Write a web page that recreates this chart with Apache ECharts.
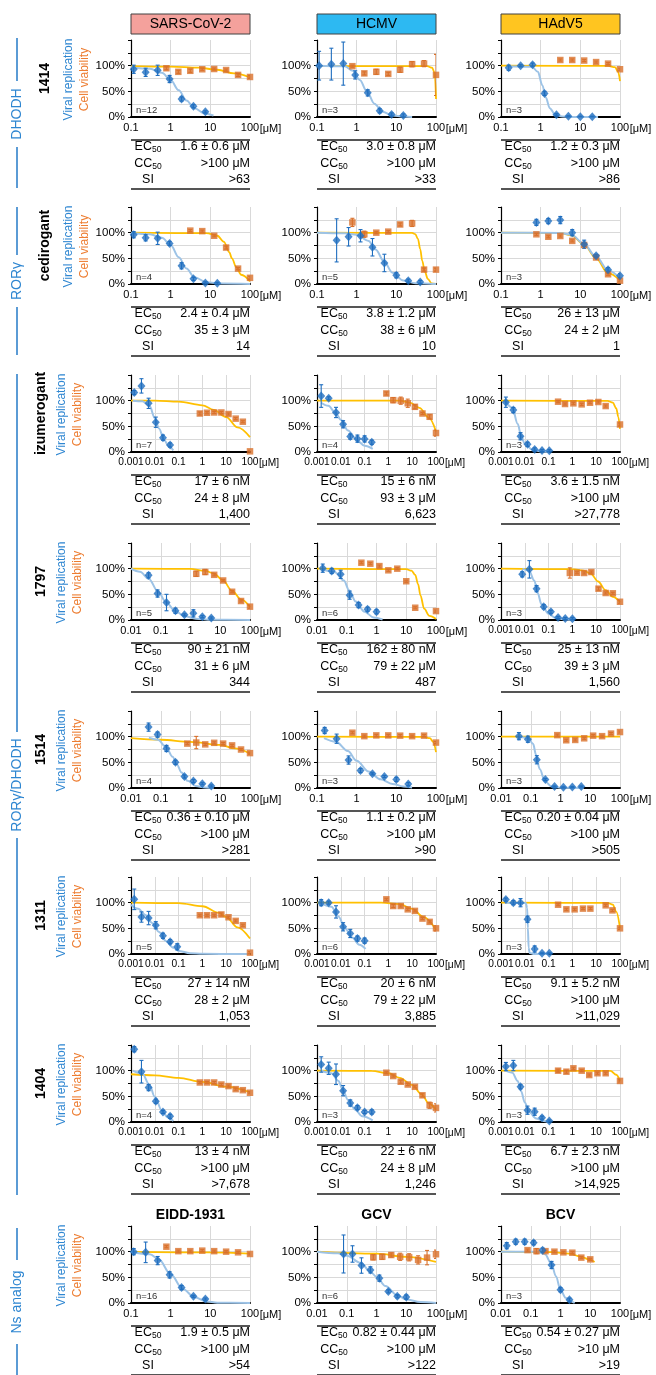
<!DOCTYPE html>
<html><head><meta charset="utf-8">
<script src="https://cdn.jsdelivr.net/npm/echarts@6/dist/echarts.min.js"></script>
<style>html,body{margin:0;padding:0;background:#fff}#c{width:656px;height:1375px}</style>
</head><body><div id="c"></div>
<script>
// ---------- categories / labels ----------
const viruses = ['SARS-CoV-2', 'HCMV', 'HAdV5'];
const virusColors = ['#F4A19C', '#2DB9F2', '#FFC520'];
const compounds = ['1414', 'cedirogant', 'izumerogant', '1797', '1514', '1311', '1404', ''];
const bottomTitles = ['EIDD-1931', 'GCV', 'BCV'];
const groups = ['DHODH', 'RORγ', 'RORγ/DHODH', 'Ns analog'];
const xMins = [[0.1,0.1,0.1],[0.1,0.1,0.1],[0.001,0.001,0.001],[0.01,0.01,0.001],[0.01,0.1,0.01],[0.001,0.001,0.001],[0.001,0.001,0.001],[0.1,0.01,0.01]];
const xTickText = {'-3':'0.001','-2':'0.01','-1':'0.1','0':'1','1':'10','2':'100'};
const xUnit = '[μM]';
const yTickText = {0:'0%', 50:'50%', 100:'100%'};
const nLabels = ['n=12','n=3','n=3','n=4','n=5','n=3','n=7','n=4','n=3','n=5','n=6','n=3','n=4','n=3','n=3','n=5','n=6','n=3','n=4','n=3','n=3','n=16','n=6','n=3'];
const ec50 = ['1.6 ± 0.6 μM','3.0 ± 0.8 μM','1.2 ± 0.3 μM','2.4 ± 0.4 μM','3.8 ± 1.2 μM','26 ± 13 μM','17 ± 6 nM','15 ± 6 nM','3.6 ± 1.5 nM','90 ± 21 nM','162 ± 80 nM','25 ± 13 nM','0.36 ± 0.10 μM','1.1 ± 0.2 μM','0.20 ± 0.04 μM','27 ± 14 nM','20 ± 6 nM','9.1 ± 5.2 nM','13 ± 4 nM','22 ± 6 nM','6.7 ± 2.3 nM','1.9 ± 0.5 μM','0.82 ± 0.44 μM','0.54 ± 0.27 μM'];
const cc50 = ['>100 μM','>100 μM','>100 μM','35 ± 3 μM','38 ± 6 μM','24 ± 2 μM','24 ± 8 μM','93 ± 3 μM','>100 μM','31 ± 6 μM','79 ± 22 μM','39 ± 3 μM','>100 μM','>100 μM','>100 μM','28 ± 2 μM','79 ± 22 μM','>100 μM','>100 μM','24 ± 8 μM','>100 μM','>100 μM','>100 μM','>10 μM'];
const si = ['>63','>33','>86','14','10','1','1,400','6,623','>27,778','344','487','1,560','>281','>90','>505','1,053','3,885','>11,029','>7,678','1,246','>14,925','>54','>122','>19'];

// ---------- data: [dose µM, % , error] ----------
const viral1 = [
 [[0.117,93,8],[0.234,87,8],[0.47,91,10],[0.94,74,7],[1.88,35,4],[3.75,21,3],[7.5,10,2]],
 [[0.113,100,28],[0.23,103,31],[0.46,104,42],[0.92,82,8],[1.9,47,6],[3.8,12,4],[7.6,5,3],[15,3,3]],
 [[0.156,96,5],[0.3125,100,2],[0.625,102,3],[1.25,46,4],[2.5,4.5,2],[5,1.5,1],[10,0.5,1],[20,0.5,1]]];
const cell1 = [
 [[0.78,95,3],[1.56,88,3],[3.125,90,3],[6.25,93,2],[12.5,93.5,2],[25,91.5,2],[50,82,3],[100,78,3]],
 [[0.78,99,2],[1.56,85,3],[3.125,88,5],[6.25,84,3],[12.5,92,5],[25,103,5],[50,104,6],[100,82,40]],
 [[3.125,111,2],[6.25,111,2],[12.5,110,2],[25,107,2],[50,104,2],[100,93,2]]];
const viralFit1 = [
 [[0.1,97],[0.3,94],[0.6,86],[1,72],[1.6,52],[2.5,32],[4,17],[7,7],[12,3]],
 [[0.1,100],[0.5,99],[0.8,90],[1.2,72],[1.8,50],[2.8,26],[4.5,10],[8,3],[15,1],[25,0]],
 [[0.15,99],[0.6,98],[0.85,88],[1.1,62],[1.35,38],[1.7,17],[2.3,5],[3.5,1],[6,0],[28,0]]];
const cellFit1 = [
 [[0.1,99],[1,98],[5,96],[15,92],[40,85],[100,77]],
 [[0.1,99],[60,99],[80,96],[90,88],[95,75],[100,35]],
 [[0.1,100],[50,99.5],[75,97],[90,88],[100,70]]];

const viral2 = [
 [[0.117,96,6],[0.234,90,6],[0.47,89,12],[0.94,79,4],[1.88,35.5,6],[3.75,10,3],[7.5,2,2],[15,1.3,2]],
 [[0.3125,85,42],[0.625,92,18],[1.25,94,12],[2.5,71.6,17],[5,41,17],[10,17,5],[20,6.5,3],[40,4,3]],
 [[0.78,120,6],[1.56,122.6,5],[3.125,124.5,7],[6.25,100,6],[12.5,77.4,8],[25,55,3],[50,27.7,4],[100,16,4]]];
const cell2 = [
 [[3.125,104,2],[6.25,103,2],[12.5,94,2],[25,71,3],[50,30,2],[100,12,3]],
 [[0.78,120,8],[1.56,97,6],[3.125,100,2],[6.25,102,2],[12.5,116,3],[25,118,6],[50,28,3],[100,28,3]],
 [[0.78,96.8,2],[1.56,92,2],[3.125,93.5,2],[6.25,84,2],[12.5,76,3],[25,51.6,2],[50,19,2],[100,6.5,2]]];
const viralFit2 = [
 [[0.1,99.5],[0.3,97],[0.6,90],[1,76],[1.6,52],[2.5,30],[4,13],[8,3.5],[20,0.8],[100,0]],
 [[0.1,100],[0.5,99],[1,96],[2,84],[3,67],[5,43],[8,22],[15,7],[30,1.5],[100,0]],
 [[0.1,100],[3,99.5],[6,96],[12,79],[25,53],[50,27],[100,11]]];
const cellFit2 = [
 [[0.1,100],[8,99],[15,94],[22,82],[30,62],[35,50],[45,33],[60,18],[100,5]],
 [[0.1,100],[25,99.5],[30,97],[35,88],[40,68],[45,45],[52,25],[62,10],[78,1],[100,0]],
 [[0.1,100],[3,99.5],[6,95],[12,78],[25,50],[50,21],[100,7]]];

const viral3 = [
 [[0.00137,115.7,4],[0.00275,128.8,14],[0.0055,94.8,10],[0.011,58,10],[0.022,28,5],[0.044,13.7,4]],
 [[0.0015,109,22],[0.0031,104.6,3],[0.0063,77,10],[0.0125,54,7],[0.025,30,5],[0.05,26,7],[0.1,25.5,6],[0.2,19,4]],
 [[0.0016,97,10],[0.0033,81.7,5],[0.0066,30.7,7],[0.013,15,4],[0.026,5,3],[0.053,3,2],[0.107,2.6,2]]];
const cell3 = [
 [[0.78,75,3],[1.56,76.5,2],[3.125,77,2],[6.25,77,2],[12.5,74,2],[25,65,2],[50,59,2],[100,1.3,2]],
 [[0.82,114,3],[1.6,101,5],[3.3,100,7],[6.5,95,8],[13,88,4],[27,75,2],[54,68.6,4],[100,37,6]],
 [[0.25,98,2],[0.49,93.5,2],[1.1,94.8,2],[2.45,92.8,2],[5.5,96,2],[12.3,97.4,2],[25,89.5,2],[100,53.6,3]]];
const viralFit3 = [
 [[0.0012,100],[0.003,99],[0.006,90],[0.01,66],[0.015,46],[0.025,23],[0.04,10],[0.06,3]],
 [[0.0015,96],[0.003,90],[0.006,76],[0.01,63],[0.02,42],[0.05,22],[0.1,12],[0.22,6]],
 [[0.0015,100],[0.003,86],[0.005,55],[0.007,32],[0.01,16],[0.02,5],[0.05,1],[0.11,0]]];
const cellFit3 = [
 [[0.001,100],[0.01,100],[0.1,98],[1,91],[3,82],[10,68],[30,48],[100,29]],
 [[0.001,100],[3,100],[8,96],[20,86],[50,67],[100,40]],
 [[0.001,100],[30,99.5],[50,96],[70,85],[85,68],[100,45]]];

const viral4 = [
 [[0.039,87,5],[0.078,51.6,7],[0.156,34,16],[0.3125,18,5],[0.625,10,2],[1.25,13,7],[2.5,6.5,2],[5,4,2]],
 [[0.0156,101,8],[0.03125,95.5,5],[0.0625,89,8],[0.125,48.4,8],[0.25,29,5],[0.5,21,4],[1,16,4]],
 [[0.0078,89,5],[0.0156,98.7,17],[0.03125,61,6],[0.0625,25.8,4],[0.125,16,3],[0.25,5,2],[0.5,3,2],[1,2.6,2]]];
const cell4 = [
 [[1.56,90,5],[3.125,93.5,5],[6.25,88,2],[12.5,77,2],[25,55,2],[50,37,2],[100,26,3]],
 [[0.31,111.6,2],[0.62,109.7,2],[1.25,105,2],[2.5,96.8,2],[5,100,2],[10,75.5,2],[20,23.9,2],[100,17.4,2]],
 [[0.78,91.6,10],[1.56,92,2],[3.125,91.6,2],[6.25,93.5,2],[12.5,61,3],[25,52.6,2],[50,52,2],[100,35.5,3]]];
const viralFit4 = [
 [[0.01,100],[0.02,94],[0.04,80],[0.08,56],[0.15,35],[0.3,18],[0.6,8],[1.5,2.5],[5,0.5],[100,0]],
 [[0.015,99],[0.04,93],[0.08,77],[0.12,58],[0.2,36],[0.4,16],[0.8,5],[1.6,1]],
 [[0.008,100],[0.015,96],[0.025,77],[0.035,52],[0.05,31],[0.1,12],[0.2,4],[0.5,1],[1.2,0]]];
const cellFit4 = [
 [[0.01,100],[1,99.5],[3,96],[6,91],[12,78],[25,57],[50,40],[100,25]],
 [[0.01,100],[10,99],[15,96],[20,88],[25,70],[30,48],[40,22],[60,8],[100,2]],
 [[0.001,100],[1,99],[3,96],[6,90],[12,75],[25,58],[50,45],[100,35]]];

const viral5 = [
 [[0.039,118.6,8],[0.078,104,5],[0.156,77,6],[0.3125,50,4],[0.625,22.4,3],[1.25,13.5,3],[2.5,8.3,2],[5,4,2]],
 [[0.156,112,6],[0.3125,96,9],[0.625,54.5,8],[1.25,34,4],[2.5,27.6,2],[5,22.4,2],[10,16.7,4],[20,7.7,3]],
 [[0.04,101,7],[0.08,95,6],[0.16,55,8],[0.31,16.7,2],[0.63,3,1],[1.25,1.3,1],[2.5,2,1],[5,3,1]]];
const cell5 = [
 [[0.78,86.5,2],[1.56,88.5,12],[3.125,85,2],[6.25,88,2],[12.5,86.5,2],[25,83,2],[50,75,2],[100,68,2]],
 [[0.78,107.7,2],[1.56,101,2],[3.125,102.5,2],[6.25,102.5,2],[12.5,102,2],[25,101,2],[50,102,2],[100,88.5,2]],
 [[0.78,103,2],[1.56,93,2],[3.125,93.6,2],[6.25,96.8,2],[12.5,102,2],[25,101,2],[50,106,2],[100,109,2]]];
const viralFit5 = [
 [[0.04,98],[0.08,94],[0.15,80],[0.25,61],[0.35,46],[0.5,30],[0.8,14],[1.5,4],[3,1],[6,0]],
 [[0.15,97],[0.3,90],[0.6,72],[1,53],[2,32],[4,17],[8,8],[15,3],[25,1]],
 [[0.04,100],[0.08,98],[0.12,86],[0.15,65],[0.2,37],[0.3,13],[0.5,3],[1,0.5],[6,0]]];
const cellFit5 = [
 [[0.01,97],[0.1,94],[1,90],[10,84],[30,77],[100,67]],
 [[0.1,100],[50,99.5],[70,97],[85,90],[100,70]],
 [[0.01,100],[100,100]]];

const viral6 = [
 [[0.00137,106.5,20],[0.00275,72,10],[0.0055,70,13],[0.011,56,7],[0.022,35.5,5],[0.044,24,4],[0.088,14,6]],
 [[0.0015,100,6],[0.0031,100,3],[0.0063,82,12],[0.0125,53,8],[0.025,40,8],[0.05,30,5],[0.1,26,5]],
 [[0.0016,106,3],[0.0033,100,4],[0.0066,100,8],[0.013,67.7,6],[0.026,9.7,6],[0.053,1.3,1],[0.107,1.3,1]]];
const cell6 = [
 [[0.78,75.5,2],[1.56,75.5,2],[3.125,75.5,2],[6.25,77,3],[12.5,71.6,2],[25,64.5,2],[50,56,2],[100,2.6,2]],
 [[0.82,106.5,2],[1.6,93.5,3],[3.3,93.5,2],[6.5,87,2],[13,84,2],[27,69,2],[54,62.6,2],[100,50,5]],
 [[0.25,96,2],[0.56,87,2],[1.24,87,2],[2.78,88.4,2],[5.7,88.4,2],[25,94.8,2],[48,85,2],[100,50,2]]];
const viralFit6 = [
 [[0.001,96],[0.002,88],[0.004,76],[0.008,60],[0.015,43],[0.03,25],[0.06,12],[0.1,6],[0.3,1.5],[1,0.3],[100,0]],
 [[0.0015,99],[0.004,92],[0.008,73],[0.015,50],[0.03,32],[0.06,18],[0.11,10]],
 [[0.0015,100],[0.011,99.5],[0.0125,90],[0.0135,50],[0.0145,12],[0.016,2],[0.025,0],[0.1,0]]];
const cellFit6 = [
 [[0.001,100],[0.1,99],[1,93],[5,80],[10,72],[30,52],[100,30]],
 [[0.001,100],[0.5,100],[3,97],[10,88],[30,72],[100,47]],
 [[0.001,100],[30,99.5],[50,96],[70,82],[100,50]]];

const viral7 = [
 [[0.00137,141.8,5],[0.00275,98,22],[0.0055,67,6],[0.011,40.5,4],[0.022,19.6,3],[0.044,11,4]],
 [[0.0015,112,15],[0.0031,104.6,12],[0.0063,93,20],[0.0125,61,10],[0.025,37,6],[0.05,28,4],[0.1,19.6,3],[0.2,19.6,4]],
 [[0.0016,108,8],[0.0033,110,10],[0.0066,68.6,4],[0.013,23,8],[0.026,20,7],[0.053,8.5,3],[0.107,2,2]]];
const cell7 = [
 [[0.78,77,2],[1.56,77,2],[3.125,77,2],[6.25,73,2],[12.5,70,2],[25,64,2],[50,62,2],[100,57,2]],
 [[0.82,96,2],[1.6,89.5,2],[3.3,78.4,3],[6.5,73,2],[13,68.6,2],[27,52,3],[54,32.7,6],[100,27.5,8]],
 [[0.25,100,3],[0.56,98,3],[1.1,104.6,2],[2.45,100,2],[5.1,91.5,2],[11.3,95,2],[25,95,2],[100,80,2]]];
const viralFit7 = [
 [[0.0012,100],[0.003,94],[0.006,72],[0.01,49],[0.02,22],[0.035,9],[0.06,2]],
 [[0.0015,100],[0.004,95],[0.008,80],[0.012,63],[0.02,43],[0.04,24],[0.08,11],[0.22,3]],
 [[0.0015,100],[0.003,96],[0.005,80],[0.007,60],[0.01,38],[0.015,20],[0.03,7],[0.06,2],[0.1,0]]];
const cellFit7 = [
 [[0.001,93],[0.01,91],[0.1,86],[1,78],[10,69],[100,58]],
 [[0.001,100],[0.2,99.5],[1,95],[3,86],[10,72],[25,54],[50,36],[100,24]],
 [[0.001,100],[40,99.5],[70,92],[100,80]]];

const viral8 = [
 [[0.117,100,6],[0.234,98.7,20],[0.47,82.6,8],[0.94,54.8,6],[1.88,30,4],[3.75,13,2],[7.5,7.7,2]],
 [[0.078,95.5,37],[0.156,95.5,16],[0.3125,73,15],[0.625,64.5,6],[1.25,48.4,6],[2.5,22.6,3],[5,13,3],[10,11.6,4]],
 [[0.0156,111.6,6],[0.03125,119.4,5],[0.0625,119.4,5],[0.125,117.4,4],[0.25,103,4],[0.5,74,7],[1,25.8,4],[2,6.5,3]]];
const cell8 = [
 [[0.78,109.7,2],[1.56,101,2],[3.125,101,2],[6.25,102,2],[12.5,101,2],[25,100,2],[50,98.7,2],[100,95.5,2]],
 [[0.78,89,5],[1.56,90,5],[3.125,93.5,4],[6.25,90,7],[12.5,89,7],[25,84,8],[50,88.4,14],[100,95,8]],
 [[0.078,103,2],[0.156,101,5],[0.3125,101,2],[0.625,100,2],[1.25,98.7,2],[2.5,98,2],[5,88.4,2],[10,85,2]]];
const viralFit8 = [
 [[0.1,100],[0.3,95],[0.5,85],[1,56],[2,28],[4,11],[8,3],[15,0.5],[100,0]],
 [[0.01,100],[0.05,97],[0.1,92],[0.3,78],[0.6,62],[1,51],[2,33],[5,15],[10,7],[30,2],[100,0]],
 [[0.01,100],[0.15,100],[0.3,95],[0.5,76],[0.7,52],[1,26],[1.5,10],[2,4],[3,0]]];
const cellFit8 = [
 [[0.1,99.5],[10,98.5],[100,96]],
 [[0.01,100],[1,96],[10,90],[100,80]],
 [[0.01,100],[0.5,99],[2,96],[5,90],[10,84],[14,80]]];

// ---------- layout ----------
const viralRows = [viral1,viral2,viral3,viral4,viral5,viral6,viral7,viral8];
const cellRows = [cell1,cell2,cell3,cell4,cell5,cell6,cell7,cell8];
const viralFitRows = [viralFit1,viralFit2,viralFit3,viralFit4,viralFit5,viralFit6,viralFit7,viralFit8];
const cellFitRows = [cellFit1,cellFit2,cellFit3,cellFit4,cellFit5,cellFit6,cellFit7,cellFit8];

const COL_LEFT = [131, 317, 501], PLOT_W = 119, PLOT_H = 77;
const ROW_BOTTOM = [117, 284, 452, 620, 788, 954, 1122, 1303];
const FONT = '"Liberation Sans", Arial, Helvetica, sans-serif';
const BLUE = '#1F6EBF', ORANGE = '#D9702B', BLUE_FIT = '#9DC3E6', YELLOW = '#FFC000';
const LABEL_BLUE = '#2E86D1', LABEL_ORANGE = '#ED7D31', GROUP_LINE = '#5B9BD5';

const grids = [], xAxes = [], yAxes = [], series = [], graphics = [];

function errSeries(k, data, color) {
  return {
    type: 'custom', xAxisIndex: k, yAxisIndex: k, data, silent: true, z: 3, clip: true,
    encode: {x: 0, y: 1},
    renderItem: (p, api) => {
      const x = api.value(0), y = api.value(1), e = api.value(2);
      const t = api.coord([x, y + e]), b = api.coord([x, y - e]);
      const w = 2, st = {stroke: color, lineWidth: 1.1};
      return {type: 'group', children: [
        {type: 'line', shape: {x1: t[0], y1: t[1], x2: b[0], y2: b[1]}, style: st},
        {type: 'line', shape: {x1: t[0] - w, y1: t[1], x2: t[0] + w, y2: t[1]}, style: st},
        {type: 'line', shape: {x1: b[0] - w, y1: b[1], x2: b[0] + w, y2: b[1]}, style: st}
      ]};
    }
  };
}

function txt(x, y, text, o) {
  o = o || {};
  const el = {
    type: 'text', x, y, z: 10, silent: true,
    rotation: o.rotation || 0,
    style: {
      text, fill: o.color || '#000', fontSize: o.size || 12, fontFamily: FONT,
      fontWeight: o.weight || 'normal',
      align: o.align || 'center', textAlign: o.align || 'center',
      verticalAlign: 'middle', textVerticalAlign: 'middle'
    }
  };
  if (o.rich) el.style.rich = o.rich;
  return el;
}
function hline(x1, x2, y, color, w) {
  return {type: 'line', z: 10, silent: true, shape: {x1, y1: y, x2, y2: y}, style: {stroke: color, lineWidth: w}};
}
function vline(x, y1, y2, color, w) {
  return {type: 'line', z: 10, silent: true, shape: {x1: x, y1, x2: x, y2}, style: {stroke: color, lineWidth: w}};
}

for (let r = 0; r < 8; r++) {
  for (let c = 0; c < 3; c++) {
    const k = r * 3 + c;
    const left = COL_LEFT[c], bottom = ROW_BOTTOM[r], top = bottom - PLOT_H;
    const decades = Math.round(2 - Math.log10(xMins[r][c]));
    const xFont = decades >= 5 ? 10.2 : 11;
    grids.push({left, top, width: PLOT_W, height: PLOT_H});
    xAxes.push({
      type: 'log', logBase: 10, gridIndex: k, min: xMins[r][c], max: 100,
      axisLine: {show: true, onZero: false, lineStyle: {color: '#000', width: 2}},
      axisTick: {show: false},
      splitLine: {show: true, lineStyle: {color: '#D9D9D9', width: 1}},
      axisLabel: {
        show: true, margin: 5, color: '#000', fontSize: xFont, fontFamily: FONT,
        hideOverlap: false, showMinLabel: true, showMaxLabel: true,
        formatter: v => xTickText[Math.round(Math.log10(v))]
      }
    });
    yAxes.push({
      type: 'value', gridIndex: k, min: 0, max: 150, interval: 25,
      axisLine: {show: true, lineStyle: {color: '#000', width: 1.2}},
      axisTick: {show: true, length: 3, lineStyle: {color: '#000', width: 1}},
      splitLine: {show: true, showMaxLine: false, lineStyle: {color: '#D9D9D9', width: 1}},
      axisLabel: {margin: 6, color: '#000', fontSize: 11.5, fontFamily: FONT,
        showMinLabel: true, formatter: v => yTickText[v] || ''}
    });
    series.push({type: 'line', xAxisIndex: k, yAxisIndex: k, data: cellFitRows[r][c], smooth: 0.35, smoothMonotone: 'x',
      symbol: 'none', silent: true, z: 2, lineStyle: {color: YELLOW, width: 1.8}});
    series.push({type: 'line', xAxisIndex: k, yAxisIndex: k, data: viralFitRows[r][c], smooth: 0.35, smoothMonotone: 'x',
      symbol: 'none', silent: true, z: 2, lineStyle: {color: BLUE_FIT, width: 2}});
    series.push(errSeries(k, cellRows[r][c], ORANGE));
    series.push(errSeries(k, viralRows[r][c], BLUE));
    series.push({type: 'scatter', xAxisIndex: k, yAxisIndex: k, data: cellRows[r][c].map(d => [d[0], d[1]]),
      symbol: 'rect', symbolSize: 6.5, silent: true, z: 4, itemStyle: {color: ORANGE}});
    series.push({type: 'scatter', xAxisIndex: k, yAxisIndex: k, data: viralRows[r][c].map(d => [d[0], d[1]]),
      symbol: 'diamond', symbolSize: [8, 9], silent: true, z: 5, itemStyle: {color: BLUE}});

    // unit after the "100" tick label
    graphics.push(txt(left + PLOT_W + xFont * 0.834 + 0.5, bottom + 5 + xFont * 0.6, xUnit, {align: 'left', size: xFont}));
    // n label
    graphics.push(txt(left + 5, bottom - 7, nLabels[k], {align: 'left', size: 9.5, color: '#333'}));
    // table
    graphics.push(hline(left, left + PLOT_W, bottom + 23, '#555', 2));
    graphics.push(hline(left, left + PLOT_W, bottom + 72, '#555', 2));
    const rich = {a: {fontSize: 12.5, fontFamily: FONT, lineHeight: 14, verticalAlign: 'middle'},
                  s: {fontSize: 8.5, fontFamily: FONT, lineHeight: 6, verticalAlign: 'bottom'}};
    graphics.push(txt(left + 17, bottom + 30, '{a|EC}{s|50}', {rich}));
    graphics.push(txt(left + 17, bottom + 47, '{a|CC}{s|50}', {rich}));
    graphics.push(txt(left + 17, bottom + 63, 'SI', {size: 12.5}));
    graphics.push(txt(left + PLOT_W, bottom + 30, ec50[k], {align: 'right', size: 12.5}));
    graphics.push(txt(left + PLOT_W, bottom + 47, cc50[k], {align: 'right', size: 12.5}));
    graphics.push(txt(left + PLOT_W, bottom + 63, si[k], {align: 'right', size: 12.5}));
  }
  // row labels
  const mid = ROW_BOTTOM[r] - PLOT_H / 2;
  const lx = r < 2 ? [45, 69, 84.5] : [41, 62, 77.5];
  if (compounds[r]) graphics.push(txt(lx[0], mid, compounds[r], {rotation: Math.PI / 2, size: 14, weight: 'bold'}));
  graphics.push(txt(lx[1], mid + 1, 'Viral replication', {rotation: Math.PI / 2, size: 12, color: LABEL_BLUE}));
  graphics.push(txt(lx[2], mid + 1, 'Cell viability', {rotation: Math.PI / 2, size: 12, color: LABEL_ORANGE}));
}

// header boxes
for (let c = 0; c < 3; c++) {
  graphics.push({type: 'rect', z: 9, silent: true, shape: {x: COL_LEFT[c], y: 14, width: PLOT_W, height: 20},
    style: {fill: virusColors[c], stroke: '#404040', lineWidth: 1}});
  graphics.push(txt(COL_LEFT[c] + PLOT_W / 2, 24.5, viruses[c], {size: 14}));
  graphics.push(txt(COL_LEFT[c] + PLOT_W / 2, 1215, bottomTitles[c], {size: 14, weight: 'bold'}));
}

// group labels with lines
const groupLayout = [[38, 188, 114, 33], [207, 355, 281, 26], [374, 1195, 785, 53], [1228, 1380, 1302, 42]];
groupLayout.forEach((g, i) => {
  graphics.push(vline(17, g[0], g[2] - g[3], GROUP_LINE, 2));
  graphics.push(vline(17, g[2] + g[3], g[1], GROUP_LINE, 2));
  graphics.push(txt(17.5, g[2], groups[i], {rotation: Math.PI / 2, size: 14, color: LABEL_BLUE}));
});

const chart = echarts.init(document.getElementById('c'), null, {renderer: 'canvas', width: 656, height: 1375});
chart.setOption({
  animation: false,
  backgroundColor: '#fff',
  textStyle: {fontFamily: FONT},
  grid: grids, xAxis: xAxes, yAxis: yAxes, series, graphic: graphics
});
</script></body></html>
